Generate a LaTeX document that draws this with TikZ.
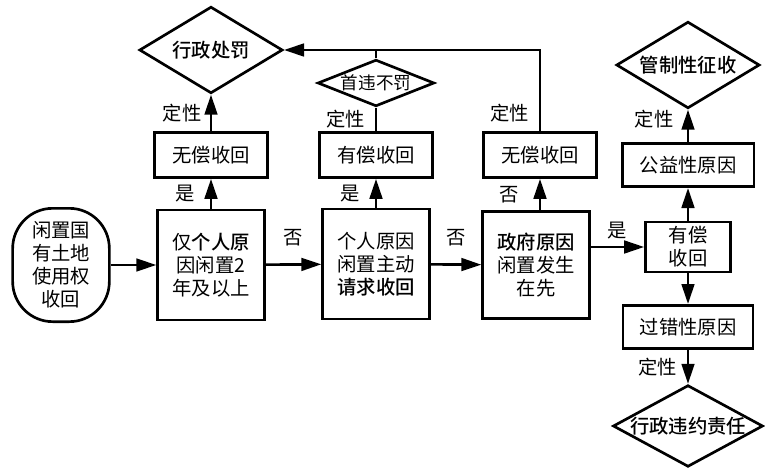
\documentclass[tikz,border=0pt]{standalone}
\usepackage{fontspec}
\setmainfont{Noto Sans CJK SC}[BoldFont={Noto Sans CJK SC Medium}]
\usepackage{tikz}
\usetikzlibrary{shapes.geometric, arrows.meta, positioning}
\tikzstyle{box} = [draw, line width=0.8mm, align=center, inner sep=0pt, font=\fontsize{16.5}{19.5}\selectfont]
\tikzstyle{decision} = [diamond, draw, line width=0.8mm, align=center, inner sep=0pt, font=\fontsize{16.5}{19.5}\selectfont\bfseries]
\tikzstyle{arrow} = [line width=0.8mm, -{Triangle[length=6mm, width=3.8mm]}]
\tikzstyle{line} = [line width=0.8mm]
\tikzstyle{lbl} = [inner sep=0pt, font=\fontsize{16.5}{19.5}\selectfont]

\begin{document}
\begin{tikzpicture}[x=0.3mm, y=-0.3mm]
    \useasboundingbox (0,0) rectangle (765,468);

    % Fila principal
    \node[box, rounded corners=12mm, minimum width=29mm, minimum height=34mm] (start) at (61,265) {闲置国\\有土地\\使用权\\收回};
    \node[box, minimum width=32mm, minimum height=33mm] (geren) at (211,265) {仅\textbf{个人原}\\因闲置2\\年及以上};
    \node[box, minimum width=32mm, minimum height=33mm] (zhudong) at (376,264) {个人原因\\闲置主动\\\textbf{请求收回}};
    \node[box, minimum width=32mm, minimum height=32mm] (zhengfu) at (536,265) {\textbf{政府原因}\\闲置发生\\在先};

    % Recepcion
    \node[box, minimum width=34mm, minimum height=13.5mm] (wuchang1) at (211,155) {无偿收回};
    \node[box, minimum width=34mm, minimum height=13.5mm] (youchang2) at (376,155) {有偿收回};
    \node[box, minimum width=34mm, minimum height=13.5mm] (wuchang3) at (540,155) {无偿收回};

    % Decisiones
    \node[decision, aspect=1.66, minimum width=43mm, minimum height=26mm] (chufa) at (211,50) {行政处罚};
    \node[decision, aspect=2.5, minimum width=35mm, minimum height=14mm, font=\fontsize{15}{17}\selectfont\mdseries] (shouwei) at (376,83) {首违不罚};

    % Columna derecha
    \node[box, minimum width=25.5mm, minimum height=15mm] (youchang) at (688,247) {有偿\\收回};
    \node[box, minimum width=39.5mm, minimum height=13mm] (gongyi) at (688,165) {公益性原因};
    \node[box, minimum width=39mm, minimum height=13mm] (guocuo) at (688,327) {过错性原因};
    \node[decision, aspect=1.67, minimum width=43mm, minimum height=26mm] (zhengshou) at (688,65) {管制性征收};
    \node[decision, aspect=1.83, minimum width=45mm, minimum height=24.5mm] (weiyue) at (688,426) {行政违约责任};

    % Flechas horizontales
    \draw[arrow] (start) -- (geren);
    \draw[arrow] (geren) -- node[lbl, above=5mm] {否} (zhudong);
    \draw[arrow] (zhudong) -- node[lbl, above=5mm] {否} (zhengfu);
    \draw[arrow] (zhengfu.east |- youchang) -- node[lbl, above=2mm] {是} (youchang);

    % Flechas verticales
    \draw[arrow] (geren) -- node[lbl, left=4.5mm] {是} (wuchang1);
    \draw[arrow] (zhudong) -- node[lbl, left=4.5mm] {是} (youchang2);
    \draw[arrow] (zhengfu.north -| wuchang3) -- node[lbl, left=6mm] {否} (wuchang3);
    \draw[arrow] (wuchang1) -- node[lbl, left=2.5mm] {定性} (chufa);
    \draw[line] (youchang2) -- node[lbl, left=3mm] {定性} (shouwei);
    \draw[line] (shouwei.north) -- (shouwei.north |- chufa.east);
    \draw[arrow] (wuchang3.north) -- node[pos=0.22, lbl, left=3mm] {定性} (wuchang3.north |- chufa.east) -- (chufa.east);

    \draw[arrow] (youchang) -- (gongyi);
    \draw[arrow] (gongyi) -- node[pos=0.7, lbl, left=4mm] {定性} (zhengshou);
    \draw[arrow] (youchang) -- (guocuo);
    \draw[arrow] (guocuo) -- node[lbl, left=3mm] {定性} (weiyue);
\end{tikzpicture}
\end{document}
